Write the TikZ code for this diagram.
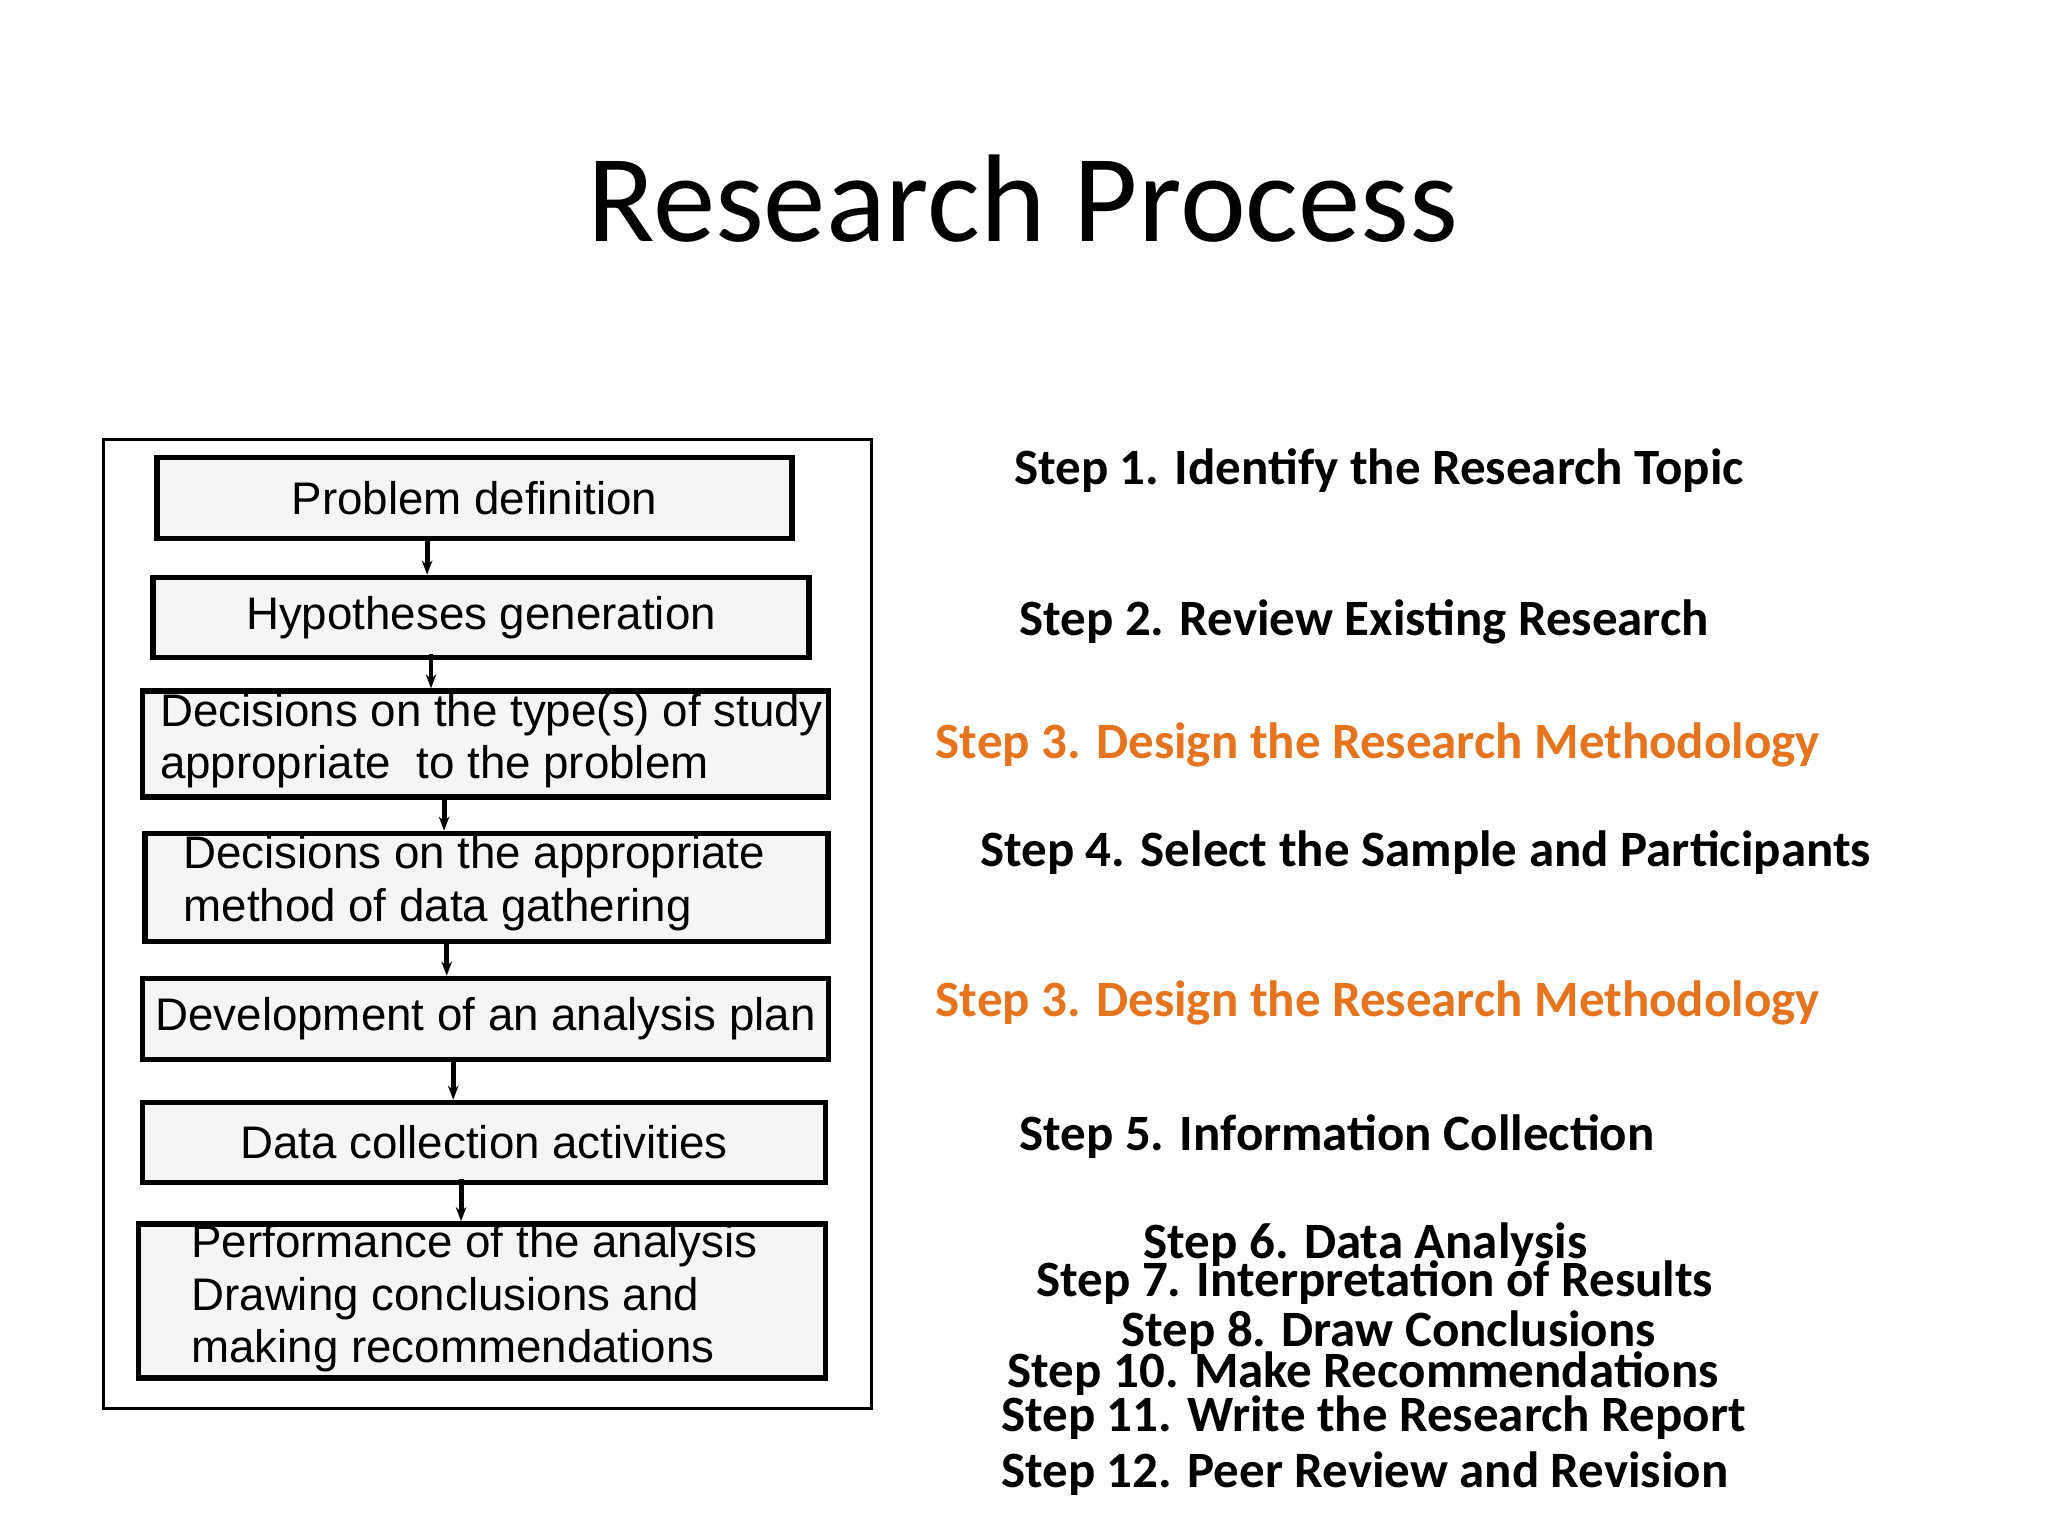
\documentclass[tikz,border=0pt]{standalone}
\usepackage{fontspec}
\usetikzlibrary{arrows.meta}
\setmainfont{Carlito}
\newfontfamily\boxfont{Liberation Sans}
\definecolor{stepor}{RGB}{230,115,30}
\begin{document}
\begin{tikzpicture}[x=0.013061cm,y=-0.013061cm,
  fbox/.style={draw,line width=1.6pt,fill=gray!8,inner sep=0pt,anchor=north west},
  btx/.style={font=\boxfont\fontsize{13}{15}\selectfont,align=left,inner sep=0pt},
  stp/.style={anchor=west,font=\bfseries\fontsize{14.5}{16}\selectfont,inner sep=0pt},
  con/.style={line width=1.4pt,-{Stealth[length=4pt]}}]
\useasboundingbox (0,0) rectangle (1568,1176);
\node[font=\fontsize{35.5}{40}\selectfont] (title) at (783,152) {Research Process};
\node[draw,line width=1pt,minimum width=7.68cm,minimum height=9.69cm,anchor=north west,inner sep=0pt] (frame) at (78,335) {};
\node[fbox,minimum width=6.35cm,minimum height=0.81cm] (b1) at (118,348) {};
\node[btx] at (b1) {Problem definition};
\node[fbox,minimum width=6.56cm,minimum height=0.80cm] (b2) at (115,440) {};
\node[btx] at (b2) {Hypotheses generation};
\node[fbox,minimum width=6.86cm,minimum height=1.06cm] (b3) at (107,527) {};
\node[btx,anchor=west] at (122,567) {Decisions on the type(s) of study\\appropriate\ \ to the problem};
\node[fbox,minimum width=6.83cm,minimum height=1.08cm] (b4) at (109,636) {};
\node[btx,anchor=west] at (140,676) {Decisions on the appropriate\\method of data gathering};
\node[fbox,minimum width=6.86cm,minimum height=0.81cm] (b5) at (107,747) {};
\node[btx] at (b5) {Development of an analysis plan};
\node[fbox,minimum width=6.83cm,minimum height=0.80cm] (b6) at (107,842) {};
\node[btx] at (b6) {Data collection activities};
\node[fbox,minimum width=6.87cm,minimum height=1.54cm] (b7) at (104,935) {};
\node[btx,anchor=west] at (146,994) {Performance of the analysis\\Drawing conclusions and\\making recommendations};
\draw[con] (327,410) -- (327,440);
\draw[con] (330,501) -- (330,527);
\draw[con] (340,608) -- (340,636);
\draw[con] (342,719) -- (342,747);
\draw[con] (347,809) -- (347,842);
\draw[con] (353,903) -- (353,935);
\node[stp] (s1) at (776,360) {Step 1. Identify the Research Topic};
\node[stp] (s2) at (780,476) {Step 2. Review Existing Research};
\node[stp,text=stepor] (s3) at (716,570) {Step 3. Design the Research Methodology};
\node[stp] (s4) at (750,653) {Step 4. Select the Sample and Participants};
\node[stp,text=stepor] (s3b) at (716,768) {Step 3. Design the Research Methodology};
\node[stp] (s5) at (780,870) {Step 5. Information Collection};
\node[stp] (s6) at (875,953) {Step 6. Data Analysis};
\node[stp] (s7) at (793,982) {Step 7. Interpretation of Results};
\node[stp] (s8) at (858,1020) {Step 8. Draw Conclusions};
\node[stp] (s10) at (771,1052) {Step 10. Make Recommendations};
\node[stp] (s11) at (766,1085) {Step 11. Write the Research Report};
\node[stp] (s12) at (766,1128) {Step 12. Peer Review and Revision};
\end{tikzpicture}
\end{document}
